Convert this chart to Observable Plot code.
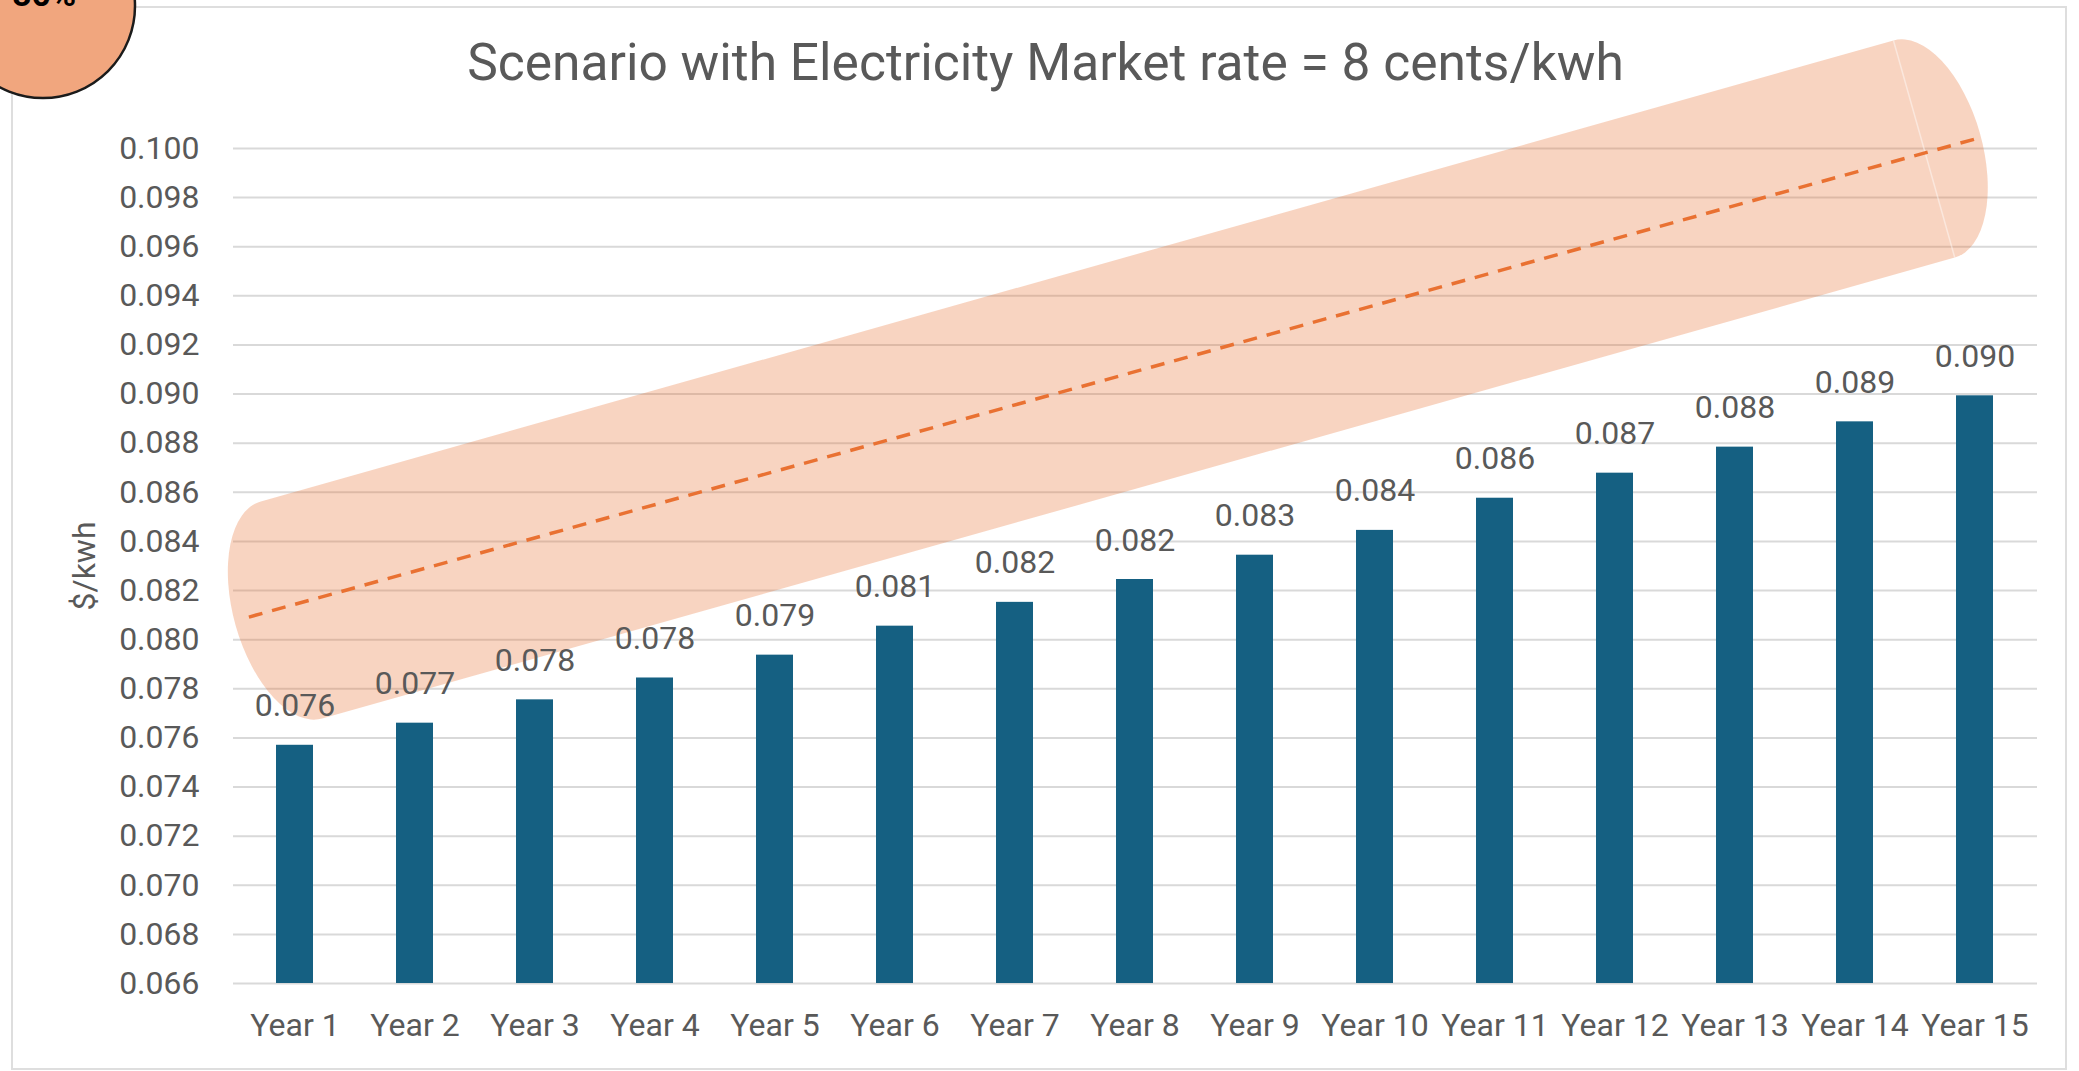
<!DOCTYPE html>
<html>
<head>
<meta charset="utf-8">
<script src="https://cdn.jsdelivr.net/npm/d3@7"></script>
<script src="https://cdn.jsdelivr.net/npm/@observablehq/plot@0.6"></script>
<style>
  html, body { margin: 0; padding: 0; background: #ffffff; overflow: hidden; }
  #wrap { position: relative; width: 2079px; height: 1071px; overflow: hidden; font-family: Roboto, "Liberation Sans", sans-serif; }
  #frame { position: absolute; left: 11px; top: 6px; width: 2056px; height: 1064px; border: 2px solid #dedede; box-sizing: border-box; }
  #chart { position: absolute; left: 0; top: 0; }
  #badge { position: absolute; left: 0; top: 0; }
</style>
</head>
<body>
<div id="wrap">
  <div id="frame"></div>
  <div id="chart"></div>
  <svg id="badge" width="200" height="120">
    <circle cx="43" cy="6" r="92" fill="#F1A67E" stroke="#1b1b1b" stroke-width="2.5"></circle>
    <text x="44" y="6" text-anchor="middle" font-family="Roboto, sans-serif" font-weight="bold" font-size="34" fill="#000">80%</text>
  </svg>
</div>
<script>
// ---- data ----
const title = "Scenario with Electricity Market rate = 8 cents/kwh";
const yLabel = "$/kwh";
const years = ["Year 1","Year 2","Year 3","Year 4","Year 5","Year 6","Year 7","Year 8",
               "Year 9","Year 10","Year 11","Year 12","Year 13","Year 14","Year 15"];
const costs = [0.0757, 0.0766, 0.07755, 0.07844, 0.07937, 0.08055, 0.08152, 0.08245,
               0.08344, 0.08445, 0.08576, 0.08678, 0.08784, 0.08887, 0.08993];
const yTicks = [0.066, 0.068, 0.070, 0.072, 0.074, 0.076, 0.078, 0.080, 0.082,
                0.084, 0.086, 0.088, 0.090, 0.092, 0.094, 0.096, 0.098, 0.100];
const yDomain = [0.066, 0.100];
// dashed trend annotation: position in year index (1 = Year 1 centre) and value
const trendPos = [0.62, 15.03];
const trendValue = [0.0809, 0.1004];
// highlighted tube around the trend: axis end centres (year index, value)
const tubePos = [0.975, 14.58];
const tubeValue = [0.08119, 0.09996];

// ---- styles ----
const textColor = "#595959";
const barColor = "#156082";
const accent = "#E97132";
const tubeHalfWidth = 112.8;   // px
const tubeCapDepth = 58;       // px

const table = years.map((year, i) => ({year, cost: costs[i]}));

function posToPx(x, p) {
  const c0 = x(years[0]) + (x.bandwidth ? x.bandwidth() / 2 : 0);
  const step = x(years[1]) - x(years[0]);
  return c0 + (p - 1) * step;
}

function tubeMark(index, scales) {
  const x = scales.x, y = scales.y;
  const L = [posToPx(x, tubePos[0]), y(tubeValue[0])];
  const R = [posToPx(x, tubePos[1]), y(tubeValue[1])];
  const dx = R[0] - L[0], dy = R[1] - L[1];
  const len = Math.hypot(dx, dy);
  const u = [dx / len, dy / len];
  const n = [-u[1], u[0]];
  const w = tubeHalfWidth, a = tubeCapDepth;
  const TL = [L[0] - w * n[0], L[1] - w * n[1]];
  const BL = [L[0] + w * n[0], L[1] + w * n[1]];
  const TR = [R[0] - w * n[0], R[1] - w * n[1]];
  const BR = [R[0] + w * n[0], R[1] + w * n[1]];
  const rot = Math.atan2(u[1], u[0]) * 180 / Math.PI;
  const g = document.createElementNS("http://www.w3.org/2000/svg", "g");
  const p = document.createElementNS("http://www.w3.org/2000/svg", "path");
  p.setAttribute("d",
    `M${TL}L${TR}A${a},${w} ${rot} 0 1 ${BR}L${BL}A${a},${w} ${rot} 0 1 ${TL}Z`);
  p.setAttribute("fill", accent);
  p.setAttribute("fill-opacity", 0.3);
  g.appendChild(p);
  const edge = document.createElementNS("http://www.w3.org/2000/svg", "path");
  edge.setAttribute("d", `M${TR}L${BR}`);
  edge.setAttribute("stroke", "#ffffff");
  edge.setAttribute("stroke-opacity", 0.45);
  edge.setAttribute("stroke-width", 1.5);
  edge.setAttribute("fill", "none");
  g.appendChild(edge);
  return g;
}

function trendMark(index, scales) {
  const x = scales.x, y = scales.y;
  const p = document.createElementNS("http://www.w3.org/2000/svg", "path");
  const x0 = posToPx(x, trendPos[0]), y0 = y(trendValue[0]);
  const x1 = posToPx(x, trendPos[1]), y1 = y(trendValue[1]);
  p.setAttribute("d", `M${x0},${y0}L${x1},${y1}`);
  p.setAttribute("stroke", accent);
  p.setAttribute("stroke-width", 3.5);
  p.setAttribute("stroke-dasharray", "14 10");
  p.setAttribute("fill", "none");
  return p;
}

const fmt = d3.format(".3f");

const chart = Plot.plot({
  width: 2079,
  height: 1071,
  marginTop: 148,
  marginBottom: 88,
  marginLeft: 233,
  marginRight: 42,
  style: {fontFamily: "Roboto, 'Liberation Sans', sans-serif", color: textColor, background: "transparent", overflow: "visible"},
  x: {domain: years, paddingInner: 0.69, paddingOuter: 0.345, align: 0.5},
  y: {domain: yDomain},
  marks: [
    Plot.gridY({ticks: yTicks, stroke: "#d9d9d9", strokeOpacity: 1, strokeWidth: 2}),
    tubeMark,
    trendMark,
    Plot.barY(table, {x: "year", y1: () => yDomain[0], y2: "cost", fill: barColor}),
    Plot.text(table, {x: "year", y: "cost", text: d => fmt(d.cost), dy: -29, lineAnchor: "bottom",
                      fontSize: 32, fill: textColor}),
    Plot.axisY({ticks: yTicks, tickFormat: fmt, tickSize: 0, tickPadding: 34, fontSize: 32, fill: textColor, label: null}),
    Plot.axisX({tickSize: 0, tickPadding: 30, fontSize: 32, fill: textColor, label: null}),
    Plot.text([yLabel], {frameAnchor: "left", dx: -149, rotate: -90, textAnchor: "middle", lineAnchor: "middle",
                         fontSize: 32, fill: textColor}),
    Plot.text([title], {frameAnchor: "top", dx: -90, dy: -85, textAnchor: "middle", lineAnchor: "middle",
                        fontSize: 51.5, fill: textColor})
  ]
});
document.getElementById("chart").appendChild(chart);
</script>
</body>
</html>
